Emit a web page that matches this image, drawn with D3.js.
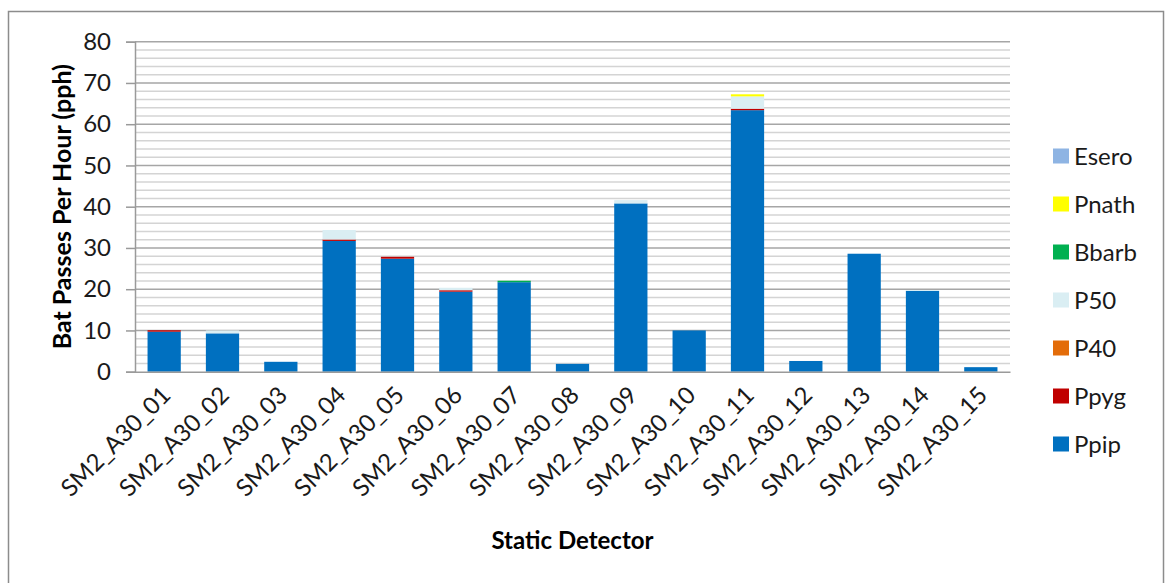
<!DOCTYPE html>
<html>
<head>
<meta charset="utf-8">
<script src="https://cdn.jsdelivr.net/npm/d3@7"></script>
<style>
  html, body { margin: 0; padding: 0; background: #fff; }
  svg { display: block; font-family: Lato, "Open Sans", sans-serif; }
</style>
</head>
<body>
<svg id="chart" width="1166" height="583"></svg>
<script>
// Static detector sites
const detectors = [
  "SM2_A30_01", "SM2_A30_02", "SM2_A30_03", "SM2_A30_04", "SM2_A30_05",
  "SM2_A30_06", "SM2_A30_07", "SM2_A30_08", "SM2_A30_09", "SM2_A30_10",
  "SM2_A30_11", "SM2_A30_12", "SM2_A30_13", "SM2_A30_14", "SM2_A30_15"
];

// Bat passes per hour by species group (stacked bottom to top)
const ppip  = [9.7, 9.3, 2.4, 31.7, 27.4, 19.4, 21.7, 1.9, 40.8, 10.0, 63.4, 2.6, 28.6, 19.6, 1.1];
const ppyg  = [0.35, 0, 0, 0.35, 0.45, 0.35, 0, 0, 0, 0, 0.35, 0, 0, 0, 0];
const p40   = [0, 0, 0, 0, 0, 0, 0, 0, 0, 0, 0, 0, 0, 0, 0];
const p50   = [0, 0.7, 0, 2.3, 0, 0.6, 0, 0, 0.8, 0, 3.0, 0, 0, 0.2, 0];
const bbarb = [0, 0, 0, 0, 0, 0, 0.35, 0, 0, 0, 0, 0, 0, 0, 0];
const pnath = [0, 0, 0, 0, 0, 0, 0, 0, 0, 0, 0.5, 0, 0, 0, 0];
const esero = [0, 0, 0, 0, 0, 0, 0, 0, 0, 0, 0, 0, 0, 0, 0];

const seriesNames = ["Ppip", "Ppyg", "P40", "P50", "Bbarb", "Pnath", "Esero"];
const seriesValues = [ppip, ppyg, p40, p50, bbarb, pnath, esero];
const seriesColors = ["#0070C0", "#C00000", "#E36C09", "#DAEEF3", "#00B050", "#FFFF00", "#8EB4E3"];

const yTicks = [0, 10, 20, 30, 40, 50, 60, 70, 80];

// Rows for the stack layout
const rows = detectors.map((d, i) => {
  const r = { detector: d };
  seriesNames.forEach((s, k) => { r[s] = seriesValues[k][i]; });
  return r;
});

const svg = d3.select("#chart");

const plot = { left: 135, right: 1010, top: 41.7, bottom: 371.7 };

const x = d3.scaleBand()
  .domain(detectors)
  .range([plot.left, plot.right])
  .paddingInner(0.43)
  .paddingOuter(0.215);

const y = d3.scaleLinear()
  .domain([0, 80])
  .range([plot.bottom, plot.top]);

const color = d3.scaleOrdinal().domain(seriesNames).range(seriesColors);

// Outer chart frame
svg.append("rect")
  .attr("x", 8.5).attr("y", 11.5)
  .attr("width", 1155).attr("height", 600)
  .attr("fill", "none")
  .attr("stroke", "#8c8c8c")
  .attr("stroke-width", 1.5);

// Minor gridlines every 2 units
const minor = d3.range(2, 80, 2).filter(v => v % 10 !== 0);
svg.append("g")
  .selectAll("line")
  .data(minor)
  .join("line")
  .attr("x1", plot.left).attr("x2", plot.right)
  .attr("y1", d => y(d)).attr("y2", d => y(d))
  .attr("stroke", "#d4d4d4")
  .attr("stroke-width", 1.4);

// Major gridlines
svg.append("g")
  .selectAll("line")
  .data(yTicks.filter(v => v > 0))
  .join("line")
  .attr("x1", plot.left).attr("x2", plot.right)
  .attr("y1", d => y(d)).attr("y2", d => y(d))
  .attr("stroke", "#a6a6a6")
  .attr("stroke-width", 1.5);

// Stacked bars
const stack = d3.stack().keys(seriesNames);
const layers = stack(rows);

svg.append("g")
  .selectAll("g")
  .data(layers)
  .join("g")
  .attr("fill", d => color(d.key))
  .selectAll("rect")
  .data(d => d.filter(p => p[1] - p[0] > 0))
  .join("rect")
  .attr("x", d => x(d.data.detector))
  .attr("width", x.bandwidth())
  .attr("y", d => y(d[1]))
  .attr("height", d => y(d[0]) - y(d[1]));

// Y axis
const yAxis = svg.append("g")
  .attr("transform", `translate(${plot.left},0)`)
  .call(d3.axisLeft(y).tickValues(yTicks).tickSize(9).tickPadding(15).tickFormat(d3.format("d")));
yAxis.select(".domain").attr("stroke", "#9a9a9a").attr("stroke-width", 1.5);
yAxis.selectAll(".tick line").attr("stroke", "#9a9a9a").attr("stroke-width", 1.5);
yAxis.selectAll(".tick text")
  .attr("fill", "#1a1a1a")
  .style("font-size", "24px")
  .style("font-family", "Lato, sans-serif");

// X axis
const xAxis = svg.append("g")
  .attr("transform", `translate(0,${plot.bottom})`)
  .call(d3.axisBottom(x).tickSize(0).tickPadding(0));
xAxis.select(".domain").attr("stroke", "#9a9a9a").attr("stroke-width", 1.5);
xAxis.selectAll(".tick text")
  .attr("fill", "#1a1a1a")
  .style("font-size", "24px")
  .style("font-family", "Lato, sans-serif")
  .attr("text-anchor", "end")
  .attr("dy", "0")
  .attr("transform", "translate(8,25) rotate(-45)");

// Axis titles
svg.append("text")
  .attr("transform", `translate(71,${(plot.top + plot.bottom) / 2}) rotate(-90)`)
  .attr("text-anchor", "middle")
  .attr("fill", "#000")
  .style("font-size", "25px")
  .style("font-weight", "bold")
  .text("Bat Passes Per Hour (pph)");

svg.append("text")
  .attr("x", (plot.left + plot.right) / 2)
  .attr("y", 549)
  .attr("text-anchor", "middle")
  .attr("fill", "#000")
  .style("font-size", "24px")
  .style("font-weight", "bold")
  .text("Static Detector");

// Legend (top to bottom reverses stack order)
const legendItems = seriesNames.slice().reverse();
const legend = svg.append("g")
  .selectAll("g")
  .data(legendItems)
  .join("g")
  .attr("transform", (d, i) => `translate(1053,${156 + i * 48})`);
legend.append("rect")
  .attr("x", 0).attr("y", -7.5)
  .attr("width", 16).attr("height", 15)
  .attr("fill", d => color(d));
legend.append("text")
  .attr("x", 21).attr("y", 0)
  .attr("dy", "0.36em")
  .attr("fill", "#1a1a1a")
  .style("font-size", "24px")
  .text(d => d);
</script>
</body>
</html>
